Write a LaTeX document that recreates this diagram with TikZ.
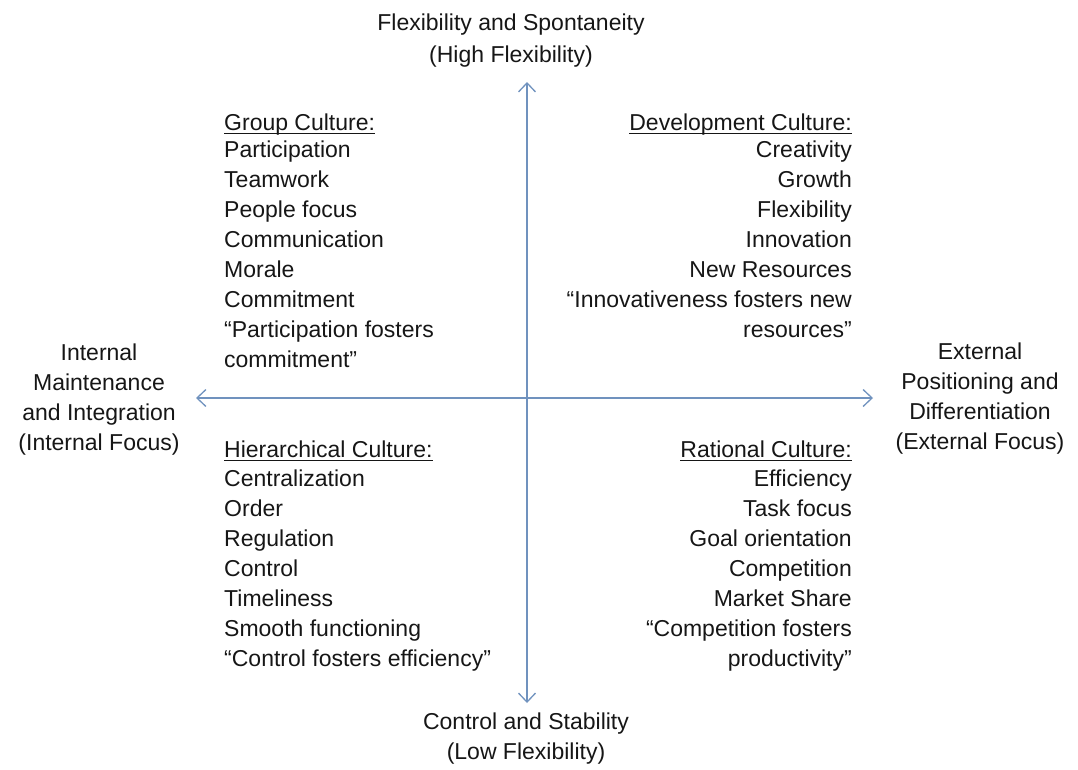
\documentclass[tikz,border=0pt]{standalone}
\usepackage{fontspec}
\setmainfont{Liberation Sans}
\usetikzlibrary{arrows.meta}
\definecolor{axiscol}{RGB}{112,146,190}
\definecolor{txtcol}{RGB}{22,22,22}
\newcommand\myul[1]{\setbox0\hbox{#1}\rlap{\rule[-3.6pt]{\wd0}{1.3pt}}\box0}
\begin{document}
\begin{tikzpicture}[x=1pt,y=-1pt,
  lbl/.style={inner sep=0pt,text=txtcol,font=\fontsize{23}{30}\selectfont},
  axis/.style={draw=axiscol,line width=1.4pt,{Straight Barb[length=9pt,width=17pt,line width=1.3pt]}-{Straight Barb[length=9pt,width=17pt,line width=1.3pt]}}]
\useasboundingbox (0,0) rectangle (1078,769);
% axis end points
\coordinate (top) at (527,82);
\coordinate (bot) at (527,703);
\coordinate (lft) at (196,398);
\coordinate (rgt) at (873,398);
\draw[axis] (top) -- (bot);
\draw[axis] (lft) -- (rgt);
% axis labels
\node[lbl,anchor=north,align=center] (toplbl) at (511,14) {Flexibility and Spontaneity\\[2pt](High Flexibility)};
\node[lbl,anchor=north,align=center] (botlbl) at (526,713) {Control and Stability\\(Low Flexibility)};
\node[lbl,anchor=north,align=center] (lftlbl) at (99,344) {Internal\\Maintenance\\and Integration\\(Internal Focus)};
\node[lbl,anchor=north,align=center] (rgtlbl) at (980,343) {External\\Positioning and\\Differentiation\\(External Focus)};
% quadrant blocks
\node[lbl,anchor=north west,align=left] (group) at (224,114) {\myul{Group Culture:}\\[-3pt]Participation\\Teamwork\\People focus\\Communication\\Morale\\Commitment\\“Participation fosters\\commitment”};
\node[lbl,anchor=north east,align=right] (dev) at (852,114) {\myul{Development Culture:}\\[-3pt]Creativity\\Growth\\Flexibility\\Innovation\\New Resources\\“Innovativeness fosters new\\resources”};
\node[lbl,anchor=north west,align=left] (hier) at (224,441) {\myul{Hierarchical Culture:}\\[-1pt]Centralization\\Order\\Regulation\\Control\\Timeliness\\Smooth functioning\\“Control fosters efficiency”};
\node[lbl,anchor=north east,align=right] (rat) at (852,441) {\myul{Rational Culture:}\\[-1pt]Efficiency\\Task focus\\Goal orientation\\Competition\\Market Share\\“Competition fosters\\productivity”};
\end{tikzpicture}
\end{document}
